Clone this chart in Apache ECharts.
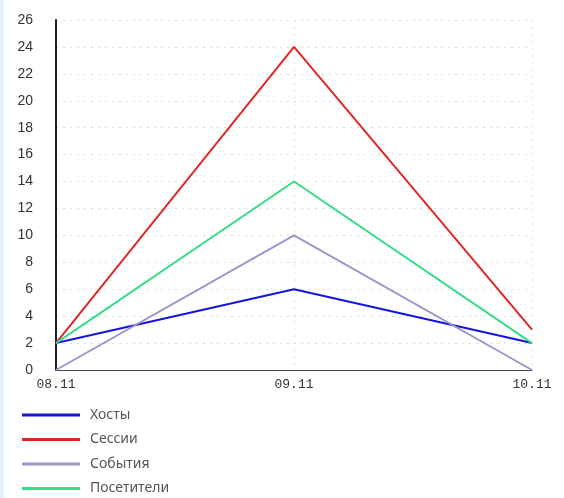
<!DOCTYPE html>
<html>
<head>
<meta charset="utf-8">
<script src="https://cdn.jsdelivr.net/npm/echarts@6/dist/echarts.min.js"></script>
<style>
html,body{margin:0;padding:0;background:#fff;}
#wrap{width:564px;height:498px;position:relative;}
#edge{position:absolute;left:0;top:0;width:4px;height:498px;background:#e6eef6;}
#chart{position:absolute;left:0;top:0;width:564px;height:498px;}
</style>
</head>
<body>
<div id="wrap"><div id="edge"></div><div id="chart"></div></div>
<script>
// даты и значения
var days = ['08.11', '09.11', '10.11'];
var hosts = [2, 6, 2];
var sessions = [2, 24, 3];
var events = [0, 10, 0];
var visitors = [2, 14, 2];

var myChart = echarts.init(document.getElementById('chart'));
function line(name, data, color){
	return {
		name: name,
		type: 'line',
		data: data,
		symbol: 'none',
		lineStyle: {color: color, width: 2},
		itemStyle: {color: color}
	};
}
var option = {
	animation: false,
	grid: {left: 56, right: 32, top: 20, bottom: 128},
	legend: {
		orient: 'vertical',
		left: 22,
		top: 408,
		padding: 0,
		icon: 'path://M0,0L58,0L58,3L0,3Z',
		itemWidth: 58,
		itemHeight: 14,
		itemGap: 10.5,
		textStyle: {color: '#555', fontSize: 14, lineHeight: 14, fontFamily: 'Noto Sans', padding: [0, 0, 0, 5]},
		data: ['Хосты', 'Сессии', 'События', 'Посетители']
	},
	xAxis: {
		type: 'category',
		data: days,
		boundaryGap: false,
		axisLine: {lineStyle: {color: '#444', width: 1}},
		axisTick: {show: false},
		axisLabel: {color: '#333', fontSize: 13, fontFamily: 'Liberation Mono', margin: 8},
		splitLine: {show: true, lineStyle: {color: '#ddd', type: [2, 5]}}
	},
	yAxis: {
		type: 'value',
		min: 0,
		max: 26,
		interval: 2,
		axisLine: {show: true, lineStyle: {color: '#222', width: 2}},
		axisTick: {show: false},
		axisLabel: {color: '#333', fontSize: 14, fontFamily: 'Liberation Sans', margin: 23},
		splitLine: {show: true, lineStyle: {color: '#ddd', type: [2, 5]}}
	},
	series: [
		line('Хосты', hosts, '#1515dc'),
		line('Сессии', sessions, '#e02626'),
		line('События', events, '#9a96cc'),
		line('Посетители', visitors, '#36dc88')
	]
};
myChart.setOption(option);
</script>
</body>
</html>
